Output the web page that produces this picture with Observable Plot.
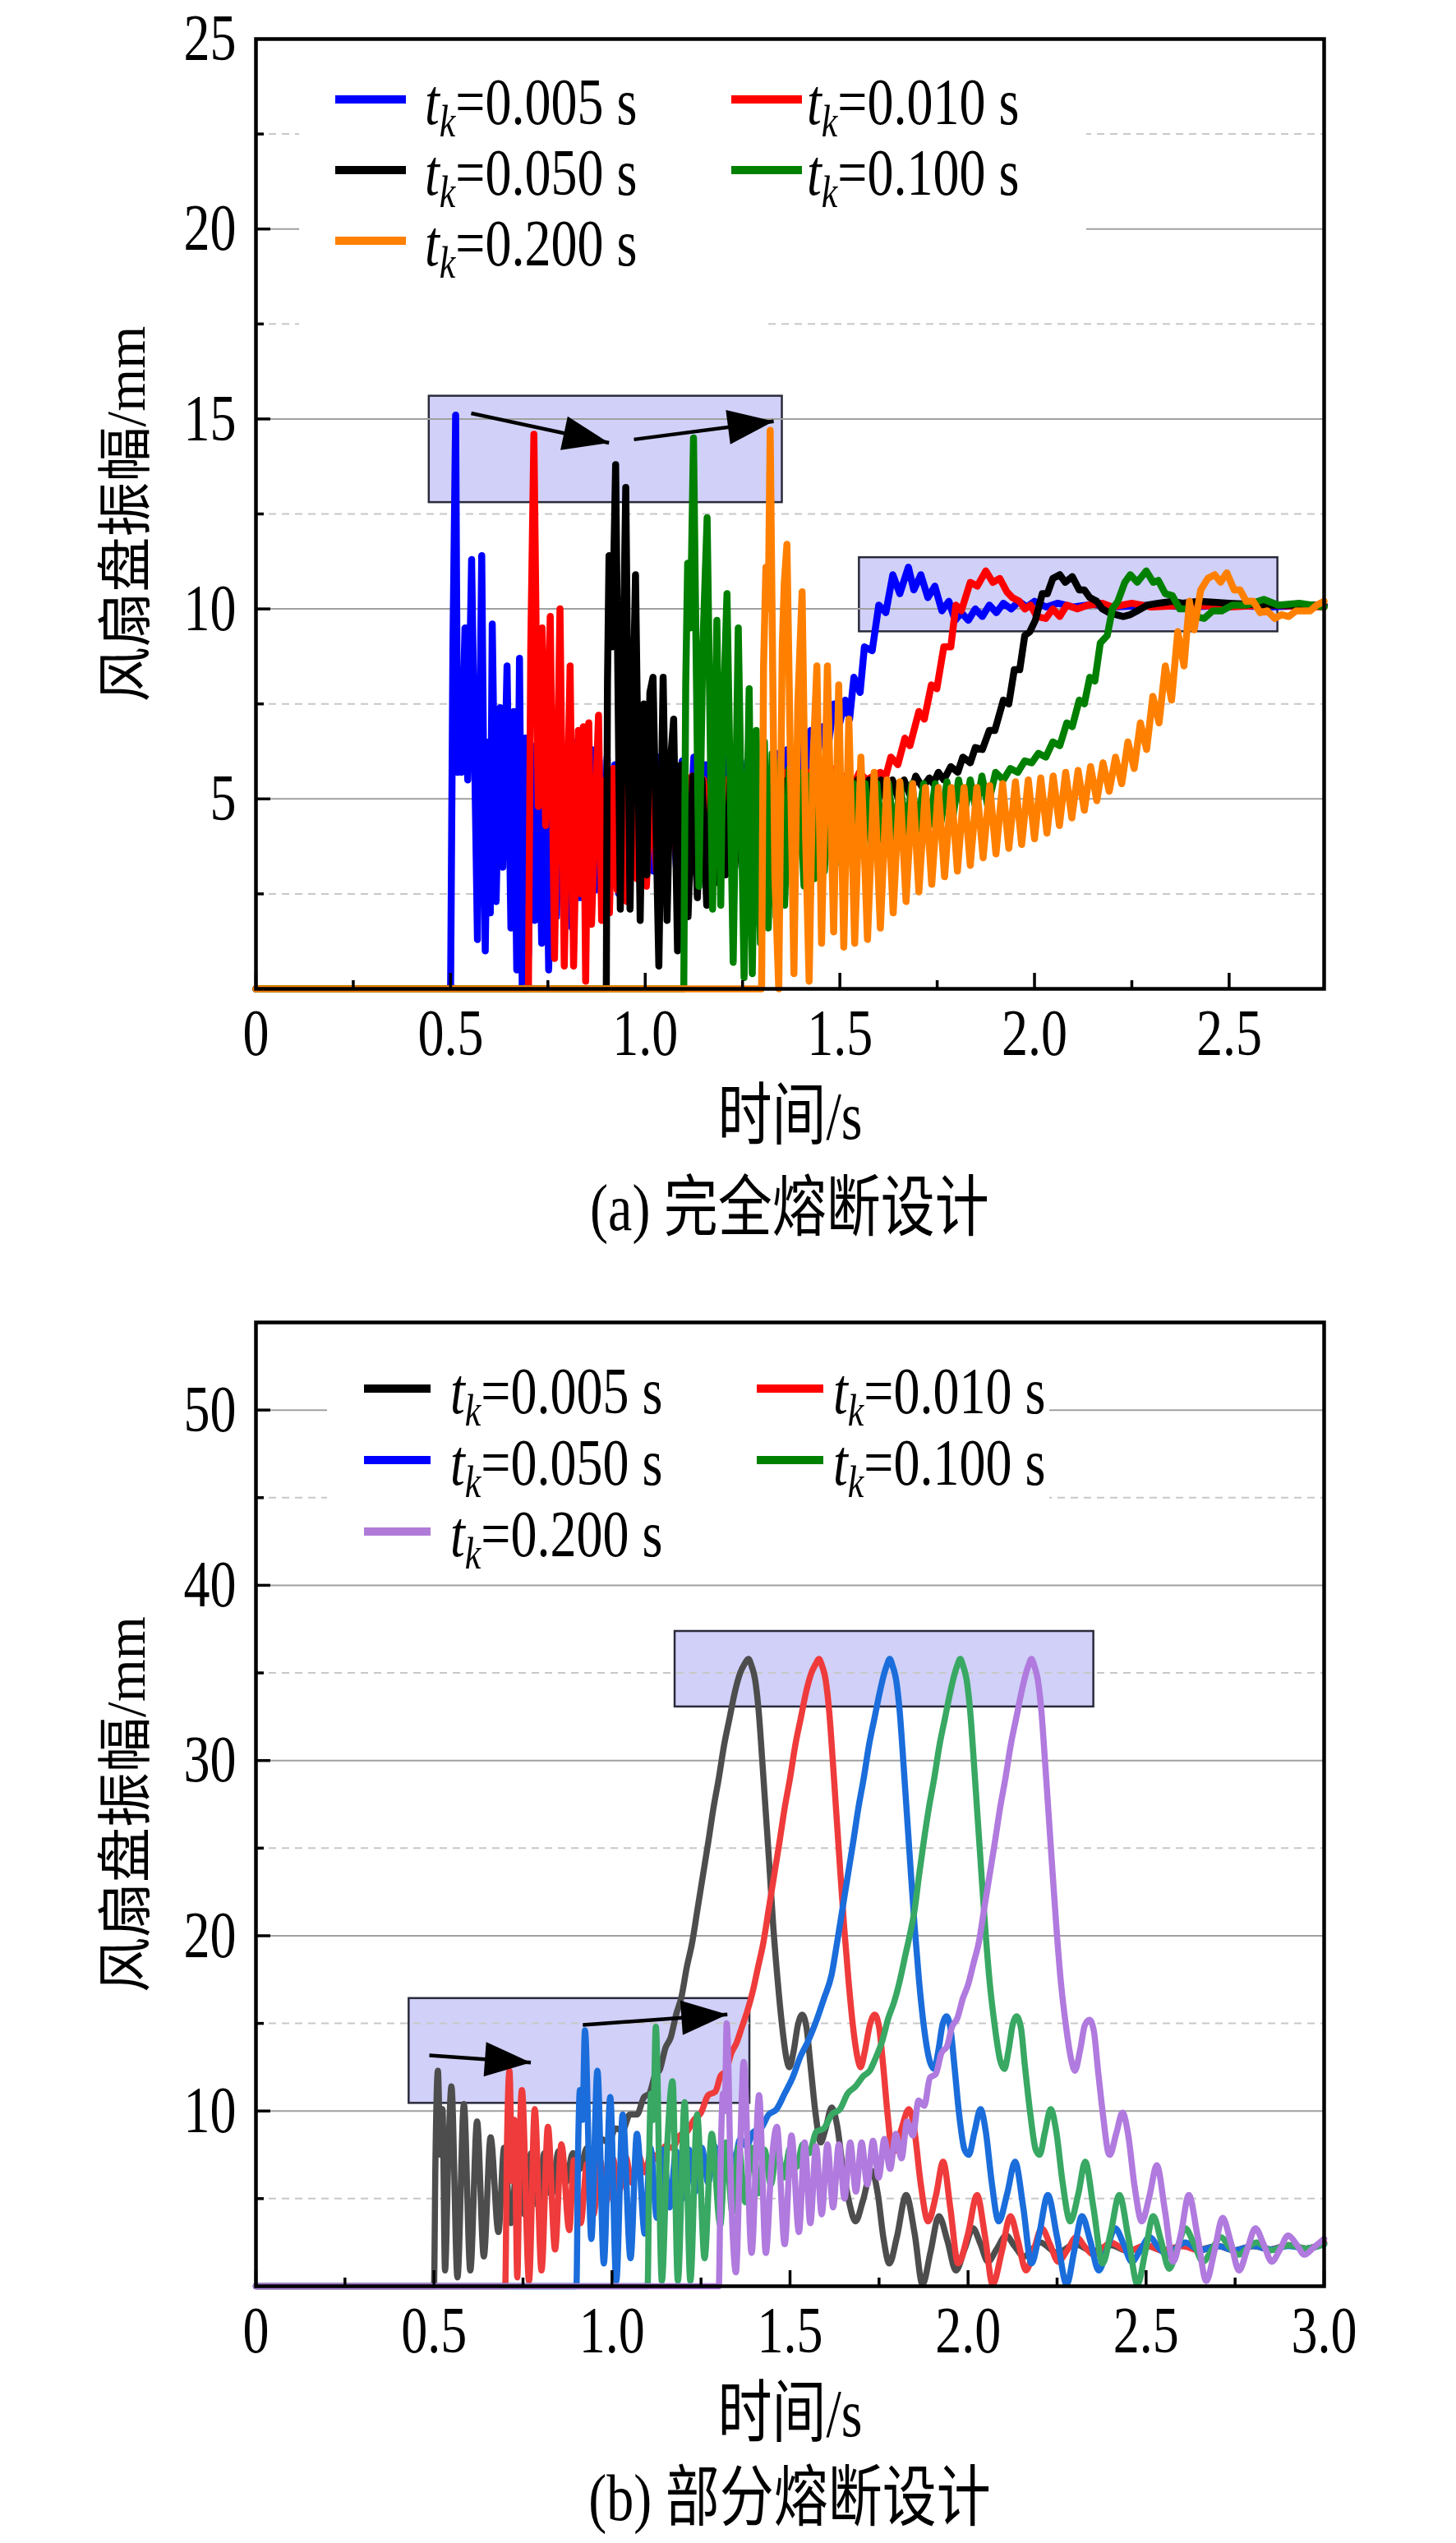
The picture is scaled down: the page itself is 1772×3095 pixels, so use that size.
<!DOCTYPE html>
<html><head><meta charset="utf-8">
<script src="https://cdn.jsdelivr.net/npm/d3@7"></script>
<script src="https://cdn.jsdelivr.net/npm/@observablehq/plot@0.6"></script>
<style>
body{margin:0;background:#fff;}
#wrap{width:1772px;position:relative;padding-top:14px;font-family:"Liberation Serif","Noto Sans CJK SC",serif;color:#000;}
.panel{position:relative;width:1772px;}
.cap{height:100px;line-height:100px;font-size:66px;text-align:center;padding-left:150px;box-sizing:border-box;width:1772px;}
.cap span{display:inline-block;transform:scaleY(1.22);transform-origin:50% 50%;}
.lg-bg{position:absolute;background:#fff;}
.lg-line{position:absolute;height:10px;}
.lg-text{position:absolute;font-size:64px;line-height:80px;white-space:nowrap;transform:scaleY(1.25);transform-origin:0 50%;}
.lg-text .it{font-style:italic;}
.lg-text .sub{font-style:italic;font-size:44px;position:relative;top:12px;}
</style></head>
<body>
<div id="wrap">
  <div class="panel" id="pa"></div>
  <div class="cap"><span>(a) 完全熔断设计</span></div>
  <div class="panel" id="pb"></div>
  <div class="cap"><span>(b) 部分熔断设计</span></div>
</div>
<script>
// ---------- chart (a): 完全熔断设计 ----------
const aLabels = ["0.005","0.010","0.050","0.100","0.200"];
const aColors = ["#0000ff","#ff0000","#000000","#008000","#ff8000"];
const aXTicks = [0,0.5,1.0,1.5,2.0,2.5];
const aXMinor = [0.25,0.75,1.25,1.75,2.25];
const aYTicks = [5,10,15,20,25];
const aYMajor = [5,10,15,20];
const aYMinor = [2.5,7.5,12.5,17.5,22.5];
const aBoxes = [{x1:0.445,x2:1.352,y1:12.8,y2:15.6},{x1:1.55,x2:2.625,y1:9.4,y2:11.35}];
const aArrows = [{x1:0.553,y1:15.15,x2:0.907,y2:14.37},{x1:0.971,y1:14.46,x2:1.33,y2:14.94}];

const a005 = [[0,0],[0.5,0],[0.506,9.0],[0.513,15.1],[0.518,5.7],[0.523,8.0],[0.528,5.7],[0.537,9.5],[0.544,5.5],[0.554,11.3],[0.569,1.3],[0.58,11.4],[0.589,1.0],[0.597,6.5],[0.602,2.0],[0.607,9.6],[0.617,2.3],[0.627,7.4],[0.634,3.2],[0.645,8.5],[0.655,1.6],[0.662,7.3],[0.67,0.5],[0.677,8.7],[0.684,0.1],[0.692,6.6],[0.70,0.9],[0.708,6.4],[0.716,1.8],[0.725,6.1],[0.734,1.2],[0.744,6.3],[0.752,0.5],[0.762,6.2],[0.772,1.9],[0.782,6.4],[0.792,2.2],[0.802,6.0],[0.812,1.6],[0.822,6.5],[0.832,2.4],[0.842,6.2],[0.852,1.9],[0.862,6.3],[0.872,2.6],[0.882,6.0],[0.892,2.2],[0.902,6.1],[0.912,2.8],[0.922,5.9],[0.932,2.5],[0.945,6.2],[0.96,3.0],[0.975,6.0],[0.99,2.7],[1.005,5.8],[1.02,3.1],[1.035,6.1],[1.05,2.9],[1.065,5.9],[1.08,3.2],[1.095,6.0],[1.11,3.0],[1.125,6.1],[1.14,3.3],[1.155,5.9],[1.17,3.4],[1.185,6.0],[1.2,3.3],[1.215,6.1],[1.23,3.6],[1.245,6.0],[1.26,3.7],[1.275,6.1],[1.29,3.9],[1.305,6.0],[1.32,4.2],[1.335,6.2],[1.35,4.5],[1.365,6.3],[1.38,5.0],[1.395,6.5],[1.41,5.5],[1.425,6.8],[1.44,6.0],[1.455,6.9],[1.47,6.4],[1.485,7.5],[1.5,7.0],[1.514,7.6],[1.525,7.1],[1.536,8.2],[1.552,7.8],[1.563,9.0],[1.583,8.9],[1.6,10.1],[1.618,9.9],[1.636,10.9],[1.654,10.4],[1.676,11.1],[1.69,10.5],[1.708,10.9],[1.726,10.3],[1.744,10.6],[1.762,9.95],[1.78,10.2],[1.796,9.7],[1.812,9.9],[1.83,9.7],[1.848,10.0],[1.866,9.8],[1.884,10.1],[1.902,9.9],[1.92,10.15],[1.94,10.0],[1.96,10.2],[1.98,10.05],[2.0,10.2],[2.03,10.05],[2.06,10.15],[2.1,10.05],[2.15,10.12],[2.2,10.05],[2.3,10.1],[2.4,10.05],[2.5,10.1],[2.6,10.05],[2.744,10.1]];

const a010 = [[0,0],[0.7,0],[0.706,9.0],[0.714,14.6],[0.725,4.8],[0.735,9.5],[0.744,4.3],[0.756,9.8],[0.767,0.8],[0.781,10.0],[0.792,0.6],[0.807,8.5],[0.816,0.6],[0.828,6.8],[0.835,2.5],[0.841,6.9],[0.847,0.2],[0.855,7.0],[0.862,1.7],[0.88,7.2],[0.888,1.8],[0.898,5.5],[0.908,2.0],[0.918,5.8],[0.928,2.6],[0.94,5.6],[0.952,2.3],[0.965,5.7],[0.978,2.9],[0.99,5.5],[1.003,2.7],[1.016,5.6],[1.029,3.1],[1.042,5.4],[1.055,3.0],[1.068,5.6],[1.081,3.3],[1.094,5.5],[1.107,3.2],[1.12,5.6],[1.135,3.5],[1.15,5.5],[1.165,3.6],[1.18,5.6],[1.195,3.8],[1.21,5.5],[1.225,3.9],[1.24,5.6],[1.255,4.0],[1.27,5.5],[1.285,4.2],[1.3,5.7],[1.315,4.3],[1.33,5.6],[1.345,4.5],[1.36,5.7],[1.375,4.6],[1.39,5.6],[1.405,4.8],[1.42,5.7],[1.435,4.9],[1.45,5.7],[1.465,5.0],[1.48,5.8],[1.495,5.2],[1.514,5.6],[1.532,5.3],[1.55,5.7],[1.568,5.5],[1.586,5.6],[1.604,5.7],[1.618,5.6],[1.631,6.1],[1.649,5.9],[1.667,6.6],[1.68,6.4],[1.703,7.3],[1.717,7.1],[1.735,8.0],[1.749,7.9],[1.767,9.0],[1.785,9.0],[1.798,10.1],[1.812,9.95],[1.835,10.7],[1.853,10.6],[1.875,11.0],[1.893,10.7],[1.911,10.8],[1.929,10.45],[1.943,10.3],[1.961,10.2],[1.975,10.0],[1.99,10.1],[2.006,9.8],[2.029,9.75],[2.047,10.0],[2.065,9.8],[2.083,10.1],[2.11,10.0],[2.137,10.1],[2.174,10.15],[2.2,10.05],[2.25,10.15],[2.3,10.05],[2.4,10.1],[2.5,10.05],[2.6,10.1],[2.744,10.05]];

const a050 = [[0,0],[0.9,0],[0.903,8.0],[0.907,11.4],[0.915,9.0],[0.924,13.8],[0.936,2.1],[0.943,8.5],[0.95,13.2],[0.961,2.1],[0.968,7.0],[0.975,10.9],[0.987,1.8],[0.996,7.5],[1.004,3.0],[1.012,7.8],[1.02,8.2],[1.035,0.6],[1.046,8.2],[1.056,1.8],[1.065,6.0],[1.073,7.1],[1.083,1.0],[1.092,5.9],[1.1,5.5],[1.11,1.9],[1.122,5.6],[1.134,2.4],[1.146,5.5],[1.158,2.2],[1.17,5.4],[1.182,2.8],[1.194,5.5],[1.206,3.0],[1.218,5.4],[1.23,3.2],[1.245,5.5],[1.26,3.4],[1.275,5.4],[1.29,3.5],[1.305,5.5],[1.32,3.7],[1.335,5.4],[1.35,3.8],[1.365,5.5],[1.38,4.0],[1.395,5.4],[1.41,4.1],[1.425,5.5],[1.44,4.3],[1.455,5.4],[1.47,4.4],[1.485,5.5],[1.5,4.5],[1.515,5.4],[1.53,4.6],[1.545,5.5],[1.56,4.7],[1.575,5.5],[1.59,4.8],[1.605,5.5],[1.62,4.9],[1.635,5.5],[1.65,5.0],[1.665,5.5],[1.68,5.1],[1.695,5.6],[1.712,5.3],[1.73,5.55],[1.74,5.4],[1.753,5.7],[1.767,5.5],[1.785,5.85],[1.803,5.7],[1.816,6.1],[1.835,5.95],[1.848,6.35],[1.866,6.3],[1.884,6.8],[1.898,6.8],[1.92,7.6],[1.934,7.5],[1.948,8.4],[1.962,8.4],[1.975,9.3],[1.988,9.4],[2.002,9.7],[2.02,10.4],[2.033,10.4],[2.047,10.8],[2.065,10.9],[2.079,10.7],[2.097,10.85],[2.115,10.5],[2.128,10.5],[2.142,10.3],[2.16,10.2],[2.174,10.0],[2.192,9.9],[2.21,9.85],[2.228,9.8],[2.246,9.85],[2.264,9.95],[2.29,10.1],[2.318,10.15],[2.354,10.2],[2.38,10.15],[2.42,10.2],[2.5,10.15],[2.6,10.1],[2.744,10.1]];

const a100 = [[0,0],[1.099,0],[1.104,8.0],[1.109,11.2],[1.116,9.5],[1.124,14.5],[1.138,2.7],[1.148,9.0],[1.159,12.4],[1.173,2.1],[1.184,9.7],[1.194,2.2],[1.2,7.0],[1.21,10.4],[1.226,0.7],[1.239,9.5],[1.254,0.3],[1.267,7.9],[1.275,0.4],[1.285,6.8],[1.296,1.2],[1.306,6.5],[1.316,1.6],[1.326,6.2],[1.336,1.9],[1.347,6.0],[1.358,2.2],[1.37,5.8],[1.382,2.5],[1.395,5.7],[1.408,2.7],[1.421,5.6],[1.434,2.9],[1.447,5.6],[1.46,3.1],[1.475,5.5],[1.49,3.3],[1.505,5.5],[1.52,3.5],[1.535,5.4],[1.55,3.6],[1.565,5.4],[1.58,3.8],[1.595,5.4],[1.61,3.9],[1.625,5.4],[1.64,4.0],[1.655,5.4],[1.67,4.1],[1.685,5.4],[1.7,4.2],[1.715,5.4],[1.73,4.3],[1.745,5.4],[1.76,4.4],[1.775,5.45],[1.79,4.5],[1.805,5.5],[1.82,4.6],[1.835,5.5],[1.85,4.7],[1.865,5.6],[1.88,4.8],[1.9,5.7],[1.92,5.5],[1.938,5.8],[1.957,5.7],[1.975,6.0],[1.993,5.95],[2.01,6.2],[2.029,6.1],[2.047,6.5],[2.065,6.4],[2.083,7.0],[2.097,6.9],[2.115,7.6],[2.128,7.5],[2.142,8.2],[2.155,8.1],[2.169,9.1],[2.187,9.3],[2.2,10.0],[2.214,10.2],[2.232,10.7],[2.246,10.9],[2.264,10.7],[2.287,11.0],[2.305,10.7],[2.318,10.75],[2.336,10.4],[2.354,10.35],[2.373,10.0],[2.395,10.0],[2.413,9.8],[2.436,9.75],[2.458,9.95],[2.481,9.95],[2.508,10.1],[2.544,10.1],[2.589,10.25],[2.626,10.1],[2.68,10.15],[2.744,10.05]];

const a200 = [[0,0],[1.299,0],[1.304,8.5],[1.31,11.1],[1.316,10.0],[1.321,14.7],[1.333,3.0],[1.343,0.0],[1.352,9.0],[1.357,10.65],[1.364,11.7],[1.373,6.0],[1.382,0.4],[1.392,7.5],[1.403,10.45],[1.412,4.0],[1.421,0.2],[1.431,6.0],[1.441,8.5],[1.453,1.2],[1.468,8.5],[1.484,1.5],[1.497,8.0],[1.51,1.1],[1.523,7.1],[1.538,1.2],[1.554,6.1],[1.571,1.3],[1.588,5.7],[1.604,1.6],[1.621,5.5],[1.637,2.0],[1.654,5.45],[1.67,2.3],[1.687,5.4],[1.703,2.55],[1.72,5.3],[1.736,2.75],[1.753,5.3],[1.769,2.95],[1.786,5.3],[1.802,3.1],[1.819,5.3],[1.835,3.25],[1.852,5.3],[1.868,3.45],[1.885,5.35],[1.901,3.55],[1.918,5.4],[1.934,3.7],[1.951,5.45],[1.967,3.8],[1.984,5.5],[2.0,3.95],[2.016,5.55],[2.032,4.1],[2.048,5.6],[2.064,4.3],[2.08,5.7],[2.096,4.5],[2.112,5.75],[2.128,4.7],[2.144,5.85],[2.16,4.95],[2.176,5.95],[2.192,5.2],[2.208,6.1],[2.224,5.4],[2.24,6.5],[2.256,5.8],[2.272,7.0],[2.288,6.3],[2.304,7.7],[2.32,7.0],[2.336,8.5],[2.352,7.6],[2.368,9.4],[2.384,8.5],[2.398,10.2],[2.41,9.45],[2.427,10.5],[2.445,10.8],[2.463,10.9],[2.478,10.7],[2.494,10.95],[2.513,10.5],[2.528,10.5],[2.544,10.2],[2.562,10.2],[2.58,9.9],[2.598,9.95],[2.617,9.75],[2.635,9.85],[2.653,9.8],[2.672,9.95],[2.69,9.95],[2.708,9.95],[2.725,10.1],[2.744,10.2]];

// ---------- chart (b): 部分熔断设计 ----------
const bLabels = ["0.005","0.010","0.050","0.100","0.200"];
const bLegendColors = ["#000000","#ff0000","#0000ff","#008000","#b07ad8"];
const bLineColors = ["#4d4d4d","#ef3b3b","#1a6ddb","#38a863","#b07ade"];
const bXTicks = [0,0.5,1.0,1.5,2.0,2.5,3.0];
const bXMinor = [0.25,0.75,1.25,1.75,2.25,2.75];
const bYTicks = [10,20,30,40,50];
const bYMajor = [10,20,30,40,50];
const bYMinor = [5,15,25,35,45];
const bBoxes = [{x1:0.43,x2:1.387,y1:10.44,y2:16.42},{x1:1.177,x2:2.353,y1:33.06,y2:37.37}];
const bArrows = [{x1:0.487,y1:13.18,x2:0.772,y2:12.76},{x1:0.918,y1:14.91,x2:1.324,y2:15.51}];

const b005 = [[0,0],[0.5,0],[0.504,7],[0.511,12.3],[0.518,7.5],[0.524,10.1],[0.531,0.9],[0.541,8],[0.549,11.4],[0.566,0.5],[0.584,10.4],[0.602,0.9],[0.621,9.4],[0.64,1.7],[0.659,8.5],[0.681,3.1],[0.697,7.9],[0.716,3.6],[0.735,7.5],[0.754,4.1],[0.773,7.6],[0.792,4.6],[0.81,7.6],[0.83,5.2],[0.85,7.7],[0.87,5.9],[0.89,7.6],[0.91,6.7],[0.93,7.9],[0.95,7.5],[0.97,8.4],[0.99,8.2],[1.01,9.0],[1.03,8.9],[1.05,9.8],[1.07,9.8],[1.09,10.8],[1.105,11.0],[1.12,12.0],[1.135,12.4],[1.15,13.6],[1.165,14.2],[1.18,15.5],[1.195,16.5],[1.21,18.2],[1.225,19.6],[1.24,21.5],[1.255,23.4],[1.27,25.3],[1.285,27.3],[1.3,29.0],[1.315,30.9],[1.33,32.4],[1.345,33.9],[1.36,35.0],[1.372,35.5],[1.383,35.8],[1.392,35.4],[1.402,34.6],[1.412,32.8],[1.422,30.0],[1.432,27.0],[1.442,24.0],[1.453,20.5],[1.465,17.5],[1.478,14.8],[1.49,13.0],[1.498,12.5],[1.51,13.4],[1.522,14.9],[1.534,15.5],[1.546,14.8],[1.558,12.5],[1.572,9.8],[1.586,8.2],[1.6,9.0],[1.617,10.2],[1.632,9.2],[1.648,6.8],[1.666,4.8],[1.684,3.7],[1.705,4.9],[1.729,6.6],[1.747,5.2],[1.762,2.8],[1.779,1.3],[1.8,2.8],[1.826,5.2],[1.85,3.0],[1.872,0.1],[1.895,2.0],[1.918,4.0],[1.942,2.6],[1.966,0.9],[1.99,2.1],[2.014,3.3],[2.035,2.4],[2.056,1.4],[2.08,2.1],[2.107,2.9],[2.13,2.3],[2.157,1.7],[2.18,2.1],[2.203,2.5],[2.25,1.9],[2.3,2.4],[2.35,2.0],[2.4,2.35],[2.45,2.0],[2.5,2.3],[2.55,2.05],[2.6,2.3],[2.65,2.1],[2.7,2.3],[2.75,2.05],[2.8,2.3],[2.85,2.1],[2.9,2.35],[2.95,2.15],[3.0,2.5]];

const b010 = [[0,0],[0.7,0],[0.705,8],[0.712,12.3],[0.72,6],[0.726,9.5],[0.734,0.5],[0.741,8.5],[0.747,11.2],[0.767,0.3],[0.783,10.1],[0.802,0.9],[0.82,9.1],[0.84,2.1],[0.858,8.1],[0.88,3.2],[0.893,7.2],[0.912,3.6],[0.93,7.0],[0.948,4.1],[0.966,7.2],[0.984,4.8],[1.002,7.3],[1.02,5.4],[1.038,7.4],[1.056,5.9],[1.074,7.5],[1.092,6.5],[1.11,7.6],[1.13,7.2],[1.15,8.0],[1.17,7.9],[1.19,8.6],[1.21,8.8],[1.23,9.5],[1.25,9.9],[1.27,10.9],[1.29,11.1],[1.305,12.0],[1.32,12.3],[1.335,13.3],[1.35,13.9],[1.365,14.8],[1.38,15.7],[1.395,16.8],[1.41,18.2],[1.425,19.6],[1.44,21.5],[1.455,23.4],[1.47,25.3],[1.485,27.3],[1.5,29.0],[1.515,30.9],[1.53,32.4],[1.545,33.9],[1.56,35.0],[1.572,35.5],[1.581,35.8],[1.59,35.4],[1.6,34.6],[1.61,32.8],[1.62,30.0],[1.63,27.0],[1.64,24.0],[1.652,20.5],[1.664,17.5],[1.677,14.8],[1.69,13.0],[1.698,12.5],[1.71,13.4],[1.724,14.9],[1.738,15.5],[1.75,14.8],[1.762,12.5],[1.774,9.8],[1.788,7.6],[1.81,8.8],[1.834,10.1],[1.85,8.8],[1.866,6.0],[1.888,3.7],[1.91,5.2],[1.93,7.1],[1.95,4.5],[1.972,1.3],[2.0,3.0],[2.025,5.2],[2.048,2.8],[2.069,0.1],[2.095,2.0],[2.119,4.0],[2.14,2.6],[2.163,0.9],[2.185,2.1],[2.207,3.3],[2.23,2.4],[2.253,1.4],[2.28,2.1],[2.304,2.8],[2.33,2.2],[2.352,1.8],[2.38,2.2],[2.4,2.5],[2.45,2.0],[2.5,2.35],[2.55,2.0],[2.6,2.3],[2.65,2.05],[2.7,2.3],[2.75,2.05],[2.8,2.3],[2.85,2.1],[2.9,2.35],[2.95,2.15],[3.0,2.45]];

const b050 = [[0,0],[0.9,0],[0.905,8],[0.91,11.2],[0.917,9.5],[0.924,14.6],[0.942,2.7],[0.959,12.3],[0.977,1.3],[0.995,10.8],[1.012,0.3],[1.03,9.8],[1.052,1.6],[1.07,8.7],[1.092,3.0],[1.108,7.9],[1.126,3.9],[1.144,7.8],[1.162,4.5],[1.18,7.7],[1.198,5.0],[1.216,7.8],[1.234,5.4],[1.252,7.9],[1.27,5.9],[1.288,8.0],[1.306,6.4],[1.324,8.1],[1.342,7.0],[1.36,8.4],[1.378,8.0],[1.397,8.8],[1.418,9.0],[1.44,9.8],[1.462,10.1],[1.485,11.0],[1.507,11.9],[1.529,13.1],[1.551,14.0],[1.573,15.1],[1.595,16.4],[1.617,17.8],[1.632,19.6],[1.647,21.5],[1.662,23.4],[1.677,25.3],[1.692,27.3],[1.707,29.0],[1.722,30.9],[1.737,32.4],[1.752,33.9],[1.765,35.0],[1.773,35.5],[1.78,35.8],[1.788,35.4],[1.798,34.6],[1.808,32.8],[1.818,30.0],[1.828,27.0],[1.838,24.0],[1.85,20.5],[1.862,17.5],[1.876,14.8],[1.893,12.8],[1.905,12.4],[1.917,13.5],[1.928,14.9],[1.939,15.4],[1.95,14.8],[1.962,12.5],[1.975,9.8],[1.99,7.8],[2.002,7.5],[2.018,8.8],[2.035,10.1],[2.05,8.8],[2.066,6.0],[2.086,3.7],[2.11,5.3],[2.132,7.1],[2.155,4.5],[2.178,1.3],[2.2,3.0],[2.224,5.2],[2.25,2.8],[2.277,0.1],[2.298,2.0],[2.32,4.0],[2.343,2.6],[2.367,0.9],[2.39,2.1],[2.413,3.3],[2.437,2.4],[2.46,1.4],[2.485,2.1],[2.51,2.8],[2.535,2.2],[2.56,1.8],[2.585,2.2],[2.61,2.5],[2.65,2.05],[2.7,2.3],[2.75,2.05],[2.8,2.3],[2.85,2.1],[2.9,2.3],[2.95,2.15],[3.0,2.4]];

const b100 = [[0,0],[1.1,0],[1.105,8],[1.11,11],[1.116,9.5],[1.123,14.8],[1.14,0.3],[1.155,8],[1.17,11.7],[1.185,0.3],[1.204,10.5],[1.22,0.3],[1.239,9.8],[1.26,1.6],[1.28,8.7],[1.304,3.5],[1.32,8.2],[1.338,4.2],[1.356,8.0],[1.374,4.8],[1.392,7.9],[1.41,5.3],[1.428,7.8],[1.446,5.8],[1.464,7.9],[1.482,6.2],[1.5,7.9],[1.518,6.8],[1.536,8.1],[1.554,7.6],[1.573,8.8],[1.595,9.0],[1.617,9.8],[1.64,10.1],[1.662,11.0],[1.684,11.4],[1.706,12.0],[1.724,12.3],[1.742,13.1],[1.759,14.0],[1.776,15.3],[1.792,16.2],[1.809,17.5],[1.825,19.0],[1.838,20.2],[1.85,21.5],[1.862,23.4],[1.875,25.3],[1.89,27.3],[1.905,29.0],[1.92,30.9],[1.935,32.4],[1.95,33.9],[1.963,35.0],[1.971,35.5],[1.978,35.8],[1.986,35.4],[1.996,34.6],[2.006,32.8],[2.016,30.0],[2.026,27.0],[2.036,24.0],[2.048,20.5],[2.06,17.5],[2.074,15.0],[2.09,12.9],[2.102,12.4],[2.114,13.5],[2.125,14.9],[2.136,15.4],[2.148,14.8],[2.16,12.5],[2.175,9.8],[2.19,7.8],[2.201,7.5],[2.216,8.8],[2.232,10.1],[2.248,8.8],[2.265,6.0],[2.287,3.7],[2.31,5.3],[2.329,7.1],[2.352,4.5],[2.378,1.3],[2.4,3.0],[2.425,5.2],[2.45,2.8],[2.476,0.1],[2.498,2.0],[2.52,4.0],[2.542,2.6],[2.565,1.0],[2.588,2.2],[2.61,3.3],[2.635,2.4],[2.66,1.4],[2.685,2.1],[2.71,2.8],[2.735,2.2],[2.76,1.8],[2.785,2.2],[2.81,2.5],[2.85,2.05],[2.9,2.35],[2.95,2.15],[3.0,2.4]];

const b200 = [[0,0],[1.3,0],[1.306,8],[1.312,11],[1.317,10],[1.322,15.0],[1.335,5],[1.348,0.8],[1.36,8],[1.37,12.8],[1.392,1.9],[1.413,10.9],[1.432,1.9],[1.448,7.0],[1.463,9.1],[1.485,2.4],[1.504,8.6],[1.525,3.1],[1.541,8.2],[1.557,3.6],[1.573,8.0],[1.589,4.1],[1.605,8.1],[1.621,4.5],[1.637,8.1],[1.653,5.0],[1.669,8.2],[1.685,5.4],[1.701,8.2],[1.717,5.8],[1.733,8.3],[1.749,6.2],[1.765,8.4],[1.781,6.7],[1.797,8.7],[1.813,7.3],[1.829,9.4],[1.845,8.6],[1.861,10.6],[1.877,10.3],[1.893,11.9],[1.909,12.1],[1.925,13.3],[1.941,13.7],[1.955,14.8],[1.97,15.3],[1.985,16.4],[2.0,17.2],[2.015,18.4],[2.03,19.6],[2.045,21.5],[2.06,23.4],[2.075,25.3],[2.09,27.3],[2.105,29.0],[2.12,30.9],[2.135,32.4],[2.15,33.9],[2.163,35.0],[2.171,35.5],[2.178,35.8],[2.186,35.4],[2.196,34.6],[2.206,32.8],[2.216,30.0],[2.226,27.0],[2.236,24.0],[2.248,20.5],[2.26,17.5],[2.274,15.0],[2.29,12.9],[2.3,12.3],[2.315,13.5],[2.328,14.9],[2.341,15.2],[2.353,14.6],[2.365,12.3],[2.38,9.6],[2.394,7.6],[2.398,7.5],[2.416,8.7],[2.434,9.9],[2.45,8.6],[2.467,5.8],[2.488,3.7],[2.51,5.2],[2.53,6.9],[2.553,4.3],[2.576,1.4],[2.598,3.0],[2.62,5.2],[2.645,2.8],[2.669,0.3],[2.692,2.0],[2.715,3.9],[2.738,2.5],[2.761,0.9],[2.784,2.1],[2.807,3.3],[2.83,2.4],[2.853,1.4],[2.876,2.1],[2.899,2.9],[2.922,2.4],[2.945,1.8],[2.97,2.2],[3.0,2.7]];

// ---------- rendering ----------
const FONT = '"Liberation Serif","Noto Sans CJK SC",serif';
const NS = "http://www.w3.org/2000/svg";
const STRETCH = 1.25;
function fmtX(d){ return d === 0 ? "0" : d.toFixed(1); }
function clean(arr){ const out=[]; let last=-Infinity; for(const p of arr){ if(p[0]>last){ out.push(p); last=p[0]; } } return out; }

function stretchTexts(svg){
  svg.querySelectorAll("text").forEach(t => {
    const tr = t.getAttribute("transform") || "";
    if (/rotate/.test(tr)) return;
    if (/translate/.test(tr)) {
      t.setAttribute("transform", tr + ` scale(1,${STRETCH})`);
    } else {
      const x = +(t.getAttribute("x") || 0), y = +(t.getAttribute("y") || 0);
      t.setAttribute("transform", `translate(${x},${y}) scale(1,${STRETCH}) translate(${-x},${-y})`);
    }
  });
}

function makeChart(cfg){
  const W = 1772, H = cfg.height, mL = 311, mR = 161, mT = cfg.mt, mB = cfg.mb;
  const innerW = W - mL - mR, innerH = H - mT - mB;
  const marks = [
    Plot.rect(cfg.boxes, {x1:"x1", x2:"x2", y1:"y1", y2:"y2", fill:"#d0d0f8", stroke:"#2a2a3a", strokeWidth:2.5}),
    Plot.ruleY(cfg.yMinor, {y:d=>d, stroke:"#c8c8c8", strokeWidth:2, strokeDasharray:"9,7"}),
    Plot.ruleY(cfg.yMajor, {y:d=>d, stroke:"#a0a0a0", strokeWidth:2}),
    ...cfg.series.map(s => Plot.line(clean(s.data), {x:d=>d[0], y:d=>d[1], stroke:s.color, strokeWidth:cfg.lw, strokeLinejoin:"round", strokeLinecap:"round", curve:cfg.curve})),
    Plot.link(cfg.arrows, {x1:"x1", y1:"y1", x2:"x2", y2:"y2", stroke:"black", strokeWidth:4.5}),
    Plot.ruleX(cfg.xTicks, {x:d=>d, insetTop:innerH-19, stroke:"black", strokeWidth:3.5}),
    Plot.ruleX(cfg.xMinor, {x:d=>d, insetTop:innerH-10, stroke:"black", strokeWidth:3.5}),
    Plot.ruleY(cfg.yMajor, {y:d=>d, insetRight:innerW-18, stroke:"black", strokeWidth:3.5}),
    Plot.ruleY(cfg.yMinor, {y:d=>d, insetRight:innerW-10, stroke:"black", strokeWidth:3.5}),
    Plot.frame({stroke:"black", strokeWidth:4.5}),
    Plot.axisX({ticks:cfg.xTicks, tickSize:0, tickPadding:24, tickFormat:fmtX, label:null}),
    Plot.axisY({ticks:cfg.yTicks, tickSize:0, tickPadding:24, tickFormat:d=>String(d), label:null}),
    Plot.text([cfg.xLabel], {frameAnchor:"bottom", dy:156, text:d=>d, fontSize:66, lineAnchor:"middle", textAnchor:"middle"}),
    Plot.text([cfg.yLabel], {frameAnchor:"left", dx:-157, rotate:-90, text:d=>d, fontSize:67, lineAnchor:"middle", textAnchor:"middle"})
  ];
  const svg = Plot.plot({
    width: W, height: H, marginLeft: mL, marginRight: mR, marginTop: mT, marginBottom: mB,
    x: {domain: cfg.xd}, y: {domain: cfg.yd},
    style: {fontFamily: FONT, fontSize: "64px", background: "#fff", overflow: "visible"},
    marks
  });
  stretchTexts(svg);
  // filled arrow heads
  const defs = document.createElementNS(NS, "defs");
  const mk = document.createElementNS(NS, "marker");
  const id = cfg.id + "-head";
  mk.setAttribute("id", id);
  mk.setAttribute("viewBox", "-60 -24 62 48");
  mk.setAttribute("markerWidth", "62");
  mk.setAttribute("markerHeight", "48");
  mk.setAttribute("markerUnits", "userSpaceOnUse");
  mk.setAttribute("refX", "0");
  mk.setAttribute("refY", "0");
  mk.setAttribute("orient", "auto");
  const hp = document.createElementNS(NS, "path");
  hp.setAttribute("d", "M-56,-21L0,0L-56,21Z");
  hp.setAttribute("fill", "black");
  mk.appendChild(hp); defs.appendChild(mk); svg.insertBefore(defs, svg.firstChild);
  svg.querySelectorAll('g[aria-label="link"] path').forEach(p => p.setAttribute("marker-end", `url(#${id})`));

  const panel = document.getElementById(cfg.id);
  panel.appendChild(svg);
  // legend overlay (panel coordinates)
  for (const b of cfg.legendBg) {
    const d = document.createElement("div");
    d.className = "lg-bg";
    Object.assign(d.style, {left: b.l + "px", top: b.t + "px", width: b.w + "px", height: b.h + "px"});
    panel.appendChild(d);
  }
  cfg.legend.forEach((e) => {
    const ln = document.createElement("div");
    ln.className = "lg-line";
    Object.assign(ln.style, {left: e.lx + "px", top: (e.y - 5) + "px", width: cfg.legendLineW + "px", background: e.color});
    panel.appendChild(ln);
    const tx = document.createElement("div");
    tx.className = "lg-text";
    Object.assign(tx.style, {left: e.tx + "px", top: (e.y - 35) + "px"});
    tx.innerHTML = `<span class="it">t</span><span class="sub">k</span>=${e.label} s`;
    panel.appendChild(tx);
  });
}

// panel (a) starts 14px below the page top; frame spans page y 47..1203
const aSeries = [a005, a010, a050, a100, a200];
const aPos = [[408,517,107],[890,982,107],[408,517,193],[890,982,193],[408,517,279]];
makeChart({
  id: "pa", height: 1406, mt: 33, mb: 217, xd: [0, 2.744], yd: [0, 25], curve: "linear", lw: 8.5,
  xTicks: aXTicks, xMinor: aXMinor, yTicks: aYTicks, yMajor: aYMajor, yMinor: aYMinor,
  boxes: aBoxes, arrows: aArrows,
  series: aSeries.map((d, i) => ({data: d, color: aColors[i]})),
  xLabel: "时间/s", yLabel: "风扇盘振幅/mm",
  legendBg: [{l:364, t:56, w:958, h:262}, {l:364, t:318, w:565, h:76}],
  legendLineW: 86,
  legend: aLabels.map((lab, i) => ({label: lab, color: aColors[i], lx: aPos[i][0], tx: aPos[i][1], y: aPos[i][2]}))
});

const bSeries = [b005, b010, b050, b100, b200];
const bPos = [[443,548,170],[921,1014,170],[443,548,257],[921,1014,257],[443,548,344]];
makeChart({
  id: "pb", height: 1470, mt: 89, mb: 208, xd: [0, 3], yd: [0, 55], curve: "monotone-x", lw: 7.5,
  xTicks: bXTicks, xMinor: bXMinor, yTicks: bYTicks, yMajor: bYMajor, yMinor: bYMinor,
  boxes: bBoxes, arrows: bArrows,
  series: bSeries.map((d, i) => ({data: d, color: bLineColors[i]})),
  xLabel: "时间/s", yLabel: "风扇盘振幅/mm",
  legendBg: [{l:398, t:120, w:879, h:260}],
  legendLineW: 81,
  legend: bLabels.map((lab, i) => ({label: lab, color: bLegendColors[i], lx: bPos[i][0], tx: bPos[i][1], y: bPos[i][2]}))
});
</script>
</body></html>
